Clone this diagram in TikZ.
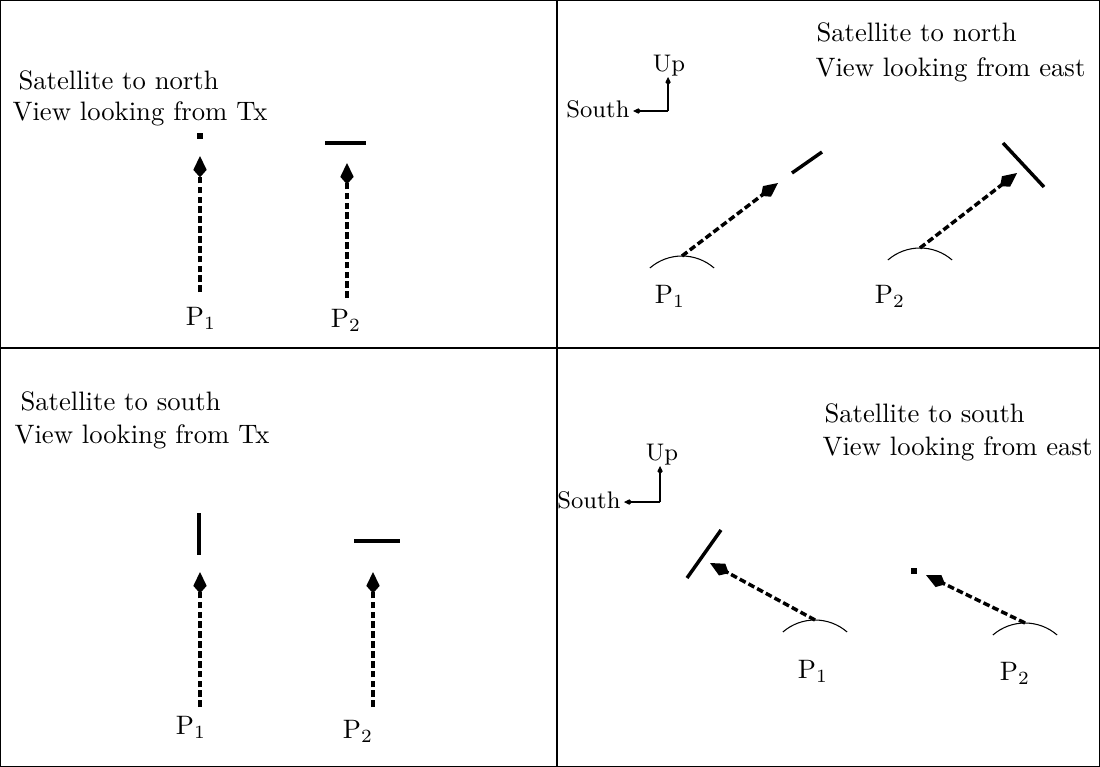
\documentclass[tikz,border=0pt]{standalone}
\usetikzlibrary{arrows.meta}
\begin{document}
\begin{tikzpicture}[x=0.375pt,y=-0.375pt,
  frame/.style={line width=0.4pt},
  ray/.style={line width=1.3pt, dash pattern=on 2.5pt off 1.2pt,
    -{Kite[length=8pt,width=5pt,inset=2.8pt]}},
  satbar/.style={line width=1.3pt},
  satdot/.style={fill, minimum size=2.3pt, inner sep=0pt, outer sep=0pt},
  earth/.style={line width=0.4pt},
  axis/.style={line width=0.4pt, -{Kite[length=3pt,width=2pt,inset=1pt]}},
  title/.style={inner sep=0pt, anchor=base west},
  plabel/.style={inner sep=0pt},
  axlabel/.style={font=\small, inner sep=0pt}]
\useasboundingbox (0,0) rectangle (1100,767);
% frame
\draw[frame] (0.5,0.5) rectangle (1099.5,766.5);
\draw[frame] (557,0.5) -- (557,766.5);
\draw[frame] (0.5,348) -- (1099.5,348);

% ---------- top left ----------
\node[title] (tlA) at (18,89) {Satellite to north};
\node[title] (tlB) at (12,120) {View looking from Tx};
\coordinate (tl1s) at (200,292);
\coordinate (tl1e) at (200,156);
\node[satdot] (tl1sat) at (200,136) {};
\draw[ray] (tl1s) -- (tl1e);
\coordinate (tl2s) at (347,298);
\coordinate (tl2e) at (347,163);
\coordinate (tl2a) at (325,143);
\coordinate (tl2b) at (366,143);
\draw[satbar] (tl2a) -- (tl2b);
\draw[ray] (tl2s) -- (tl2e);
\node[plabel] (tlP1) at (201,318) {P$_1$};
\node[plabel] (tlP2) at (346,320) {P$_2$};

% ---------- top right ----------
\node[title] (trA) at (816,42) {Satellite to north};
\node[title] (trB) at (815,76) {View looking from east};
\coordinate (trC) at (668,111);
\coordinate (trU) at (668,77);
\coordinate (trS) at (633,111);
\draw[axis] (trC) -- (trU);
\draw[axis] (trC) -- (trS);
\node[axlabel, anchor=base] (trUp) at (669,72) {Up};
\node[axlabel, anchor=base east] (trSouth) at (630,117) {South};
\coordinate (tr1c) at (682,305);
\coordinate (tr1t) at (682,256);
\draw[earth] ([shift={(-131:49)}]tr1c) arc[start angle=-131,end angle=-49,radius=49];
\coordinate (tr1e) at (778,183);
\draw[ray] (tr1t) -- (tr1e);
\coordinate (tr1a) at (792,173);
\coordinate (tr1b) at (822,152);
\draw[satbar] (tr1a) -- (tr1b);
\coordinate (tr2c) at (920,297);
\coordinate (tr2t) at (920,248);
\draw[earth] ([shift={(-131:49)}]tr2c) arc[start angle=-131,end angle=-49,radius=49];
\coordinate (tr2e) at (1017,173);
\draw[ray] (tr2t) -- (tr2e);
\coordinate (tr2a) at (1003,143);
\coordinate (tr2b) at (1044,187);
\draw[satbar] (tr2a) -- (tr2b);
\node[plabel] (trP1) at (670,296) {P$_1$};
\node[plabel] (trP2) at (890,296) {P$_2$};

% ---------- bottom left ----------
\node[title] (blA) at (20,410) {Satellite to south};
\node[title] (blB) at (14,443) {View looking from Tx};
\coordinate (bl1a) at (199,513);
\coordinate (bl1b) at (199,555);
\draw[satbar] (bl1a) -- (bl1b);
\coordinate (bl1s) at (200,707);
\coordinate (bl1e) at (200,572);
\draw[ray] (bl1s) -- (bl1e);
\coordinate (bl2a) at (354,541);
\coordinate (bl2b) at (400,541);
\draw[satbar] (bl2a) -- (bl2b);
\coordinate (bl2s) at (373,707);
\coordinate (bl2e) at (373,572);
\draw[ray] (bl2s) -- (bl2e);
\node[plabel] (blP1) at (191,727) {P$_1$};
\node[plabel] (blP2) at (358,731) {P$_2$};

% ---------- bottom right ----------
\node[title] (brA) at (824,422) {Satellite to south};
\node[title] (brB) at (822,455) {View looking from east};
\coordinate (brC) at (660,502);
\coordinate (brU) at (660,466);
\coordinate (brS) at (624,502);
\draw[axis] (brC) -- (brU);
\draw[axis] (brC) -- (brS);
\node[axlabel, anchor=base] (brUp) at (662,460) {Up};
\node[axlabel, anchor=base east] (brSouth) at (621,508) {South};
\coordinate (br1c) at (815,669);
\coordinate (br1t) at (815,620);
\draw[earth] ([shift={(-131:49)}]br1c) arc[start angle=-131,end angle=-49,radius=49];
\coordinate (br1e) at (710,563);
\draw[ray] (br1t) -- (br1e);
\coordinate (br1a) at (721,530);
\coordinate (br1b) at (687,578);
\draw[satbar] (br1a) -- (br1b);
\coordinate (br2c) at (1025,672);
\coordinate (br2t) at (1025,623);
\draw[earth] ([shift={(-131:49)}]br2c) arc[start angle=-131,end angle=-49,radius=49];
\coordinate (br2e) at (926,575);
\draw[ray] (br2t) -- (br2e);
\node[satdot] (br2sat) at (914,571) {};
\node[plabel] (brP1) at (813,671) {P$_1$};
\node[plabel] (brP2) at (1015,673) {P$_2$};
\end{tikzpicture}
\end{document}
